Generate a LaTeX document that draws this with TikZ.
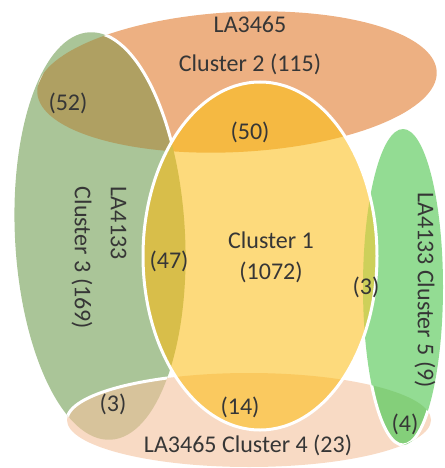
\documentclass[tikz,border=0pt]{standalone}
\usepackage{fontspec}
\setmainfont{Carlito}
\definecolor{fillOne}{HTML}{FDDA7C}
\definecolor{fillTwo}{HTML}{EDB082}
\definecolor{fillThree}{HTML}{AAC598}
\definecolor{fillFour}{HTML}{F8DAC4}
\definecolor{fillFive}{HTML}{93DC93}
\definecolor{fillTwoThree}{HTML}{AFA062}
\definecolor{fillThreeFour}{HTML}{D7C39B}
\definecolor{fillFourFive}{HTML}{84CF7A}
\definecolor{fillOneTwo}{HTML}{F5B942}
\definecolor{fillOneThree}{HTML}{D8BE4A}
\definecolor{fillOneFour}{HTML}{FAC95F}
\definecolor{fillOneFive}{HTML}{CDD05A}
\definecolor{txtgray}{HTML}{363636}
% the five cluster outlines (pixel units, y pointing down)
\newcommand{\clusterOne}{(260,256) ellipse [x radius=117, y radius=174]}
\newcommand{\clusterTwo}{(237,82) ellipse [x radius=200, y radius=70, rotate=3]}
\newcommand{\clusterThree}{(100,236) ellipse [x radius=85, y radius=204, rotate=3]}
\newcommand{\clusterFour}{(249,420) ellipse [x radius=182, y radius=47]}
\newcommand{\clusterFive}{(403,287) ellipse [x radius=40, y radius=158]}

\begin{document}
\begin{tikzpicture}
      [x=1pt, y=-1pt,
      rim/.style={draw=white, line width=3pt},
      lbl/.style={text=txtgray, inner sep=0pt, font=\fontsize{24}{29}\selectfont},
      twoline/.style={lbl, align=center, font=\fontsize{24}{39}\selectfont}]
      \useasboundingbox (0,0) rectangle (444,468);
      % Fill the clusters
      \fill [fillTwo] \clusterTwo;
      \fill [fillThree] \clusterThree;
      \fill [fillFour] \clusterFour;
      \fill [fillFive] \clusterFive;
      % Overlaps outside cluster 1
      \begin{scope}
        \clip \clusterThree;
        \fill [fillTwoThree] \clusterTwo;
        \fill [fillThreeFour] \clusterFour;
      \end{scope}
      \begin{scope}
        \clip \clusterFive;
        \fill [fillFourFive] \clusterFour;
      \end{scope}
      % White rims where they show
      \begin{scope}
        \clip \clusterTwo;
        \draw [rim] \clusterThree;
      \end{scope}
      \begin{scope}
        \clip \clusterThree;
        \draw [rim] \clusterFour;
      \end{scope}
      \begin{scope}
        \clip \clusterFour;
        \draw [rim] \clusterFive;
      \end{scope}
      % Cluster 1 on top
      \fill [fillOne] \clusterOne;
      \begin{scope}
        \clip \clusterOne;
        \fill [fillOneTwo] \clusterTwo;
        \fill [fillOneThree] \clusterThree;
        \fill [fillOneFour] \clusterFour;
        \fill [fillOneFive] \clusterFive;
      \end{scope}
      \draw [rim] \clusterOne;
      % Place labels
      \node [twoline] (nameTwo) at (250,46) {LA3465\\Cluster 2 (115)};
      \node [twoline, font=\fontsize{24}{31}\selectfont] (nameOne) at (271,257) {Cluster 1\\(1072)};
      \node [twoline, align=left, font=\fontsize{24}{36}\selectfont, rotate=-90] (nameThree) at (99,258) {LA4133\\Cluster 3 (169)};
      \node [lbl, rotate=-90] (nameFive) at (425,290) {LA4133 Cluster 5 (9)};
      \node [lbl] (nameFour) at (248,445) {LA3465 Cluster 4 (23)};
      \node [lbl] (cntTwoThree) at (68,103) {(52)};
      \node [lbl] (cntOneTwo) at (250,132) {(50)};
      \node [lbl] (cntOneThree) at (169,261) {(47)};
      \node [lbl] (cntOneFive) at (366,287) {(3)};
      \node [lbl] (cntThreeFour) at (113,404) {(3)};
      \node [lbl] (cntOneFour) at (240,407) {(14)};
      \node [lbl] (cntFourFive) at (405,424) {(4)};
\end{tikzpicture}
\end{document}
